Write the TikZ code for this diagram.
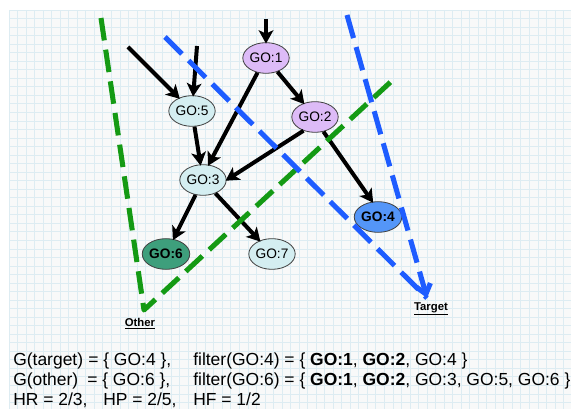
\documentclass[tikz,border=0pt]{standalone}
\usepackage{fontspec}
\setmainfont{Liberation Sans}
\usetikzlibrary{shapes.geometric,arrows.meta}
\definecolor{gridbg}{HTML}{F8F9F9}
\definecolor{gridline}{HTML}{DDECF2}
\definecolor{purplefill}{HTML}{DDBBF7}
\definecolor{cyanfill}{HTML}{D4EEF1}
\definecolor{bluefill}{HTML}{5496F8}
\definecolor{greenfill}{HTML}{3E9F7C}
\definecolor{othergreen}{HTML}{149A14}
\definecolor{targetblue}{HTML}{1E5CFF}
\begin{document}
\begin{tikzpicture}[x=0.75pt,y=-0.75pt,
  go/.style={ellipse, draw=black!75, line width=0.6pt, minimum width=32pt, minimum height=23pt, inner sep=0pt, font=\fontsize{10.3}{12}\selectfont},
  gobold/.style={go, font=\fontsize{10.3}{12}\selectfont\bfseries},
  edge/.style={line width=3pt, -{Stealth[length=10pt,width=11pt,inset=2.5pt]}, shorten >=-1pt},
  otherline/.style={othergreen, line width=3.8pt, dash pattern=on 17pt off 7pt, line join=round},
  targetline/.style={targetblue, line width=3.8pt, dash pattern=on 18pt off 7pt, line join=round},
  setlabel/.style={font=\fontsize{8.5}{10}\selectfont\bfseries, inner sep=0pt},
  formula/.style={anchor=base west, inner sep=0pt, font=\fontsize{13.1}{15}\selectfont}
]
\useasboundingbox (0,0) rectangle (571,409);
% grid background
\fill[gridbg] (9,10) rectangle (571,409);
\foreach \i in {0,...,66} {
  \pgfmathsetmacro{\gx}{9+\i*8.53}
  \draw[gridline, line width=0.5pt] (\gx,10) -- (\gx,409);
}
\foreach \j in {0,...,47} {
  \pgfmathsetmacro{\gy}{10+\j*8.53}
  \draw[gridline, line width=0.5pt] (9,\gy) -- (571,\gy);
}

% nodes
\node[go, fill=purplefill] (go1) at (266,58) {GO:1};
\node[go, fill=cyanfill] (go5) at (192,111) {GO:5};
\node[go, fill=purplefill] (go2) at (315,117) {GO:2};
\node[go, fill=cyanfill] (go3) at (203,180) {GO:3};
\node[gobold, fill=bluefill] (go4) at (378,217) {GO:4};
\node[gobold, fill=greenfill] (go6) at (166,254) {GO:6};
\node[go, fill=cyanfill] (go7) at (272,254) {GO:7};

% free ends
\coordinate (in1) at (266,19);
\coordinate (in5a) at (128,47);
\coordinate (in5b) at (197,46);

% edges
\draw[edge] (in1) -- (go1);
\draw[edge] (in5a) -- (go5);
\draw[edge] (in5b) -- (go5);
\draw[edge] (go1) -- (go2);
\draw[edge] (go1.240) -- (go3.70);
\draw[edge] (go5) -- (go3);
\draw[edge] (go2.230) -- (go3.east);
\draw[edge] (go2.300) -- (go4.110);
\draw[edge] (go3) -- (go6);
\draw[edge] (go3) -- (go7);

% set outlines
\coordinate (oA) at (101,18);
\coordinate (oB) at (144,310);
\coordinate (oC) at (396,77);
\draw[otherline] (oA) -- (oB) -- (oC);

\coordinate (tA) at (165,37);
\coordinate (tB) at (347,15);
\coordinate (tTip) at (427,298);
\draw[targetline] (tA) -- (tTip);
\draw[targetline, -{Straight Barb[length=7pt,width=11pt]}] (tB) -- (tTip);

\node[setlabel] (other) at (140,324) {\underline{Other}};
\node[setlabel] (target) at (431,309) {\underline{Target}};

% formulas
\node[formula] (l1a) at (13,366) {G(target)};
\node[formula] (l1b) at (88,366) {= \{ GO:4 \},};
\node[formula] (l1c) at (193,366) {filter(GO:4) = \{ \textbf{GO:1}, \textbf{GO:2}, GO:4 \}};
\node[formula] (l2a) at (13,386) {G(other)};
\node[formula] (l2b) at (87,386) {= \{ GO:6 \},};
\node[formula] (l2c) at (193,386) {filter(GO:6) = \{ \textbf{GO:1}, \textbf{GO:2}, GO:3, GO:5, GO:6 \}};
\node[formula] (l3a) at (13,406) {HR = 2/3,};
\node[formula] (l3b) at (103,406) {HP = 2/5,};
\node[formula] (l3c) at (193,406) {HF = 1/2};
\end{tikzpicture}
\end{document}
